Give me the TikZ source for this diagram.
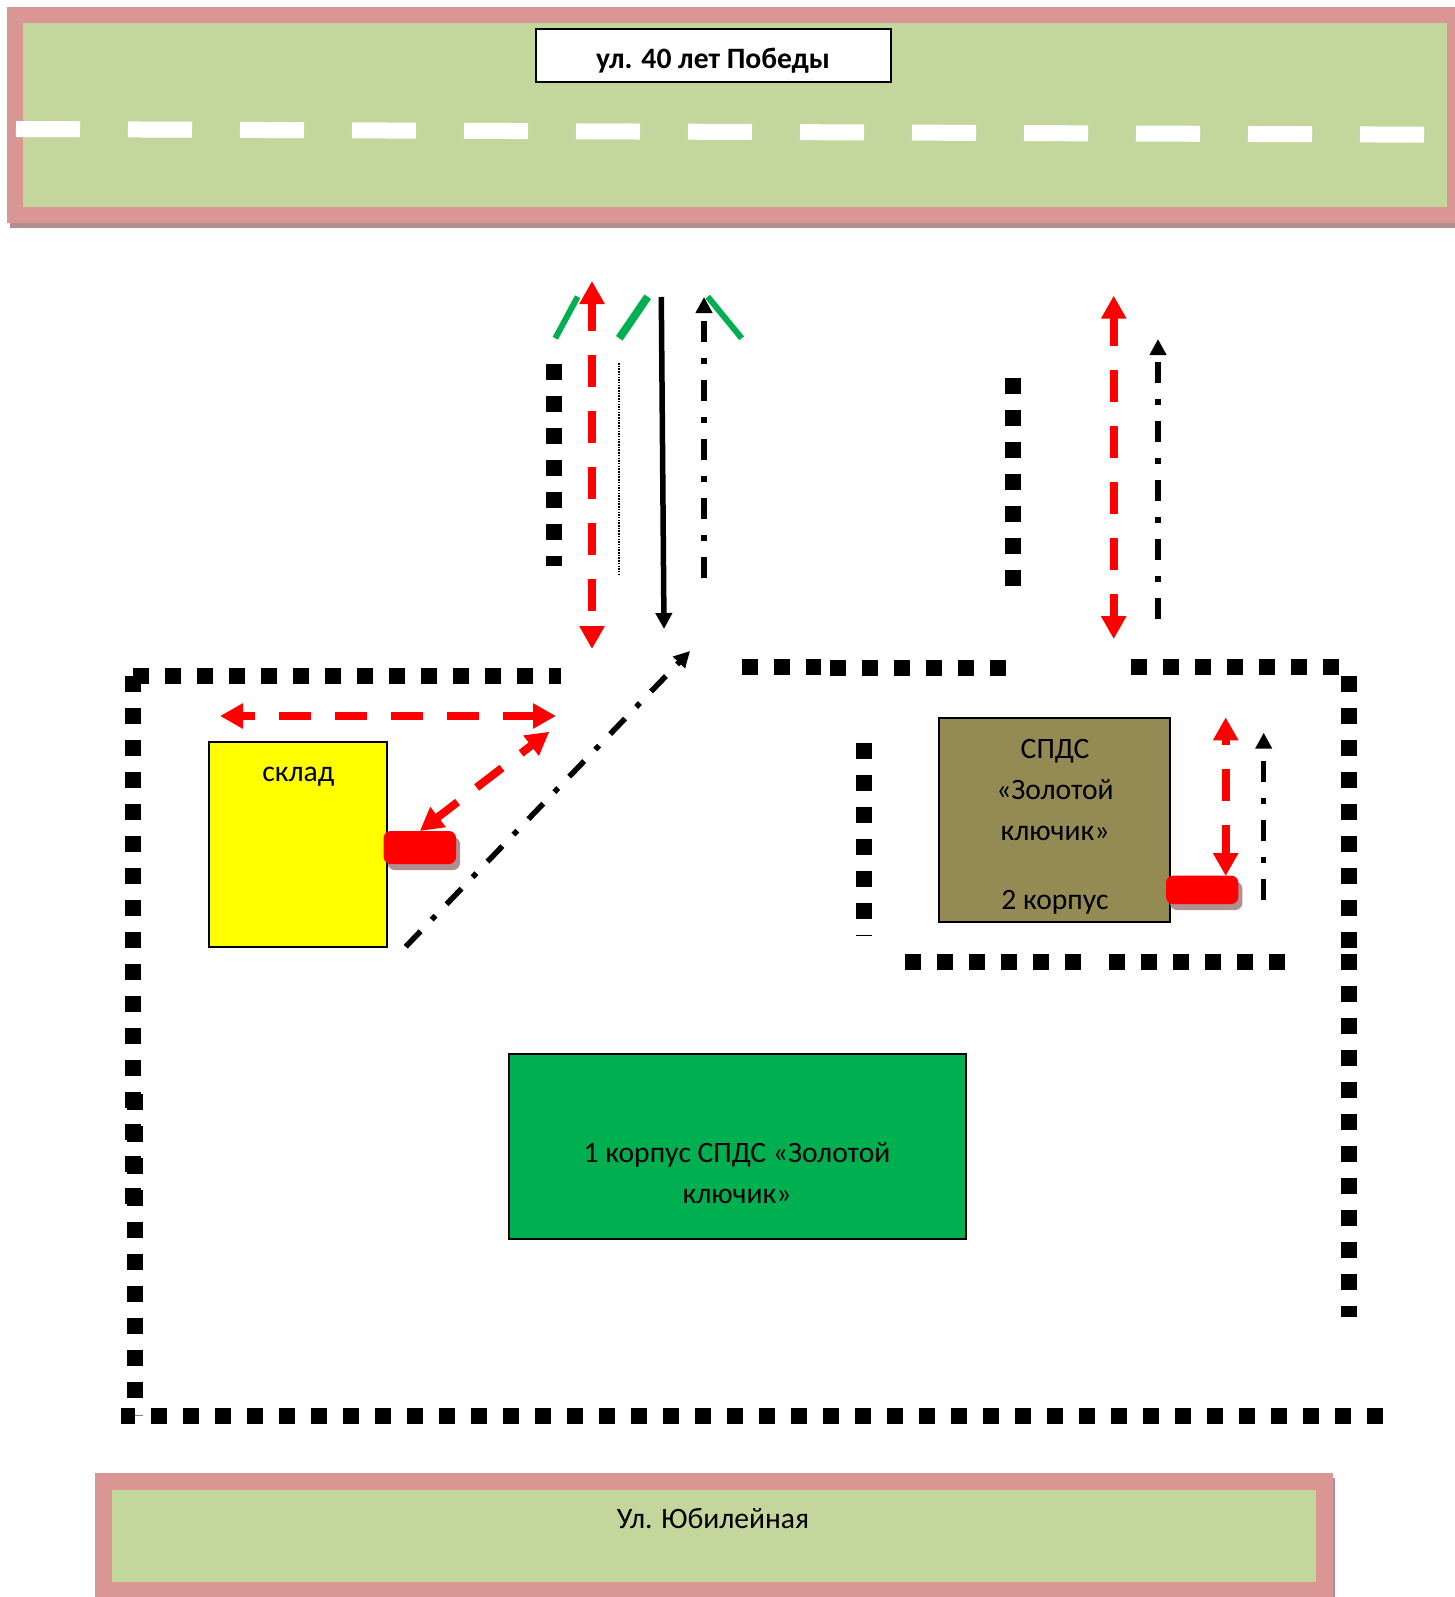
\documentclass[tikz,border=0pt]{standalone}
\usepackage{fontspec}
\setmainfont{Carlito}
\usetikzlibrary{arrows.meta,shadows}
\definecolor{roadpink}{HTML}{D99694}
\definecolor{roadgreen}{HTML}{C3D69B}
\definecolor{roadshade}{HTML}{AF8F8F}
\definecolor{spdsbrown}{HTML}{948A54}
\definecolor{spdsgreen}{HTML}{00B050}
\definecolor{skladyellow}{HTML}{FFFF00}
\definecolor{gatered}{HTML}{FF0000}
\tikzset{
    %Define style for boxes
    house/.style={
           rectangle,
           draw=black, line width=2pt,
           inner sep=0pt, outer sep=0pt,
           anchor=north west},
    gate/.style={
           rectangle,
           rounded corners=7pt,
           fill=gatered,
           inner sep=0pt, outer sep=0pt,
           anchor=north west,
           drop shadow={shadow xshift=4pt,shadow yshift=-6pt,fill=roadshade,opacity=1}},
    txt/.style={
           align=center,
           inner sep=0pt,
           font=\fontsize{29.6}{41}\selectfont},
    % Define fence style
    fence/.style={
           line width=16pt,
           dash pattern=on 16pt off 16pt},
    % Define arrow styles
    redpil/.style={
           {Triangle[length=23pt,width=24pt]}-{Triangle[length=23pt,width=24pt]},
           gatered,
           line width=8pt,
           dash pattern=on 32pt off 24pt},
    blackpil/.style={
           -{Triangle[length=16pt,width=16pt]},
           line width=5.5pt,
           dash pattern=on 21.5pt off 16pt on 5.5pt off 16pt},
    greenline/.style={
           spdsgreen,
           line width=6pt}
}
\begin{document}
\begin{tikzpicture}[x=1pt,y=-1pt]
\useasboundingbox (0,0) rectangle (1455,1597);

 %roads
\fill[roadshade] (9.5,13) rectangle (1455,228.5);
\fill[roadpink] (7.3,7.3) rectangle (1455,223);
\fill[roadgreen] (23,23) rectangle (1446.5,207);
\draw[white,line width=16pt,dash pattern=on 64pt off 48pt] (16,129) -- (1424.3,134.7);
\fill[roadshade] (97,1478) rectangle (1334.5,1597);
\fill[roadpink] (95,1473.3) rectangle (1332.6,1597);
\fill[roadgreen] (111.6,1489.7) rectangle (1316,1581.7);

 %nodes
\node[house,fill=white,minimum width=355.5pt,minimum height=53pt](pobedy) at (535.5,29.5){};
\node[txt,font=\fontsize{29.6}{34}\selectfont\bfseries] (pobedytxt) at (713,60.5){ул. 40 лет Победы};
\node[txt] (yubtxt) at (713,1519){Ул. Юбилейная};
\node[house,fill=skladyellow,minimum width=178.3pt,minimum height=204.4pt](sklad) at (209,742.3){};
\node[txt] (skladtxt) at (298.3,776.5){склад};
\node[house,fill=spdsbrown,minimum width=230.7pt,minimum height=203.7pt](korp2) at (939.3,718.3){};
\node[txt] (korp2txt) at (1055,789.5){СПДС\\«Золотой\\ключик»};
\node[txt] (korp2num) at (1055,902){2 корпус};
\node[house,fill=spdsgreen,minimum width=457pt,minimum height=184.7pt](korp1) at (509,1054.3){};
\node[txt] (korp1txt) at (737,1173){1 корпус СПДС «Золотой\\ключик»};
\node[gate,minimum width=72.3pt,minimum height=33pt](gate1) at (383.7,831){};
\node[gate,minimum width=72.3pt,minimum height=28.3pt](gate2) at (1166,875.7){};

 %ends of arrows
\coordinate (redtop) at (592,281);
\coordinate (redbot) at (592,649);
\coordinate (redrtop) at (1113.7,295.7);
\coordinate (redrbot) at (1113.7,639);
\coordinate (skladl) at (220,716);
\coordinate (skladr) at (556,716);
\coordinate (skladd) at (549.3,731.7);
\coordinate (korptop) at (1225.7,717.3);
\coordinate (korpbot) at (1225.7,876);
\coordinate (blktop) at (704,297);
\coordinate (blkbot) at (704,578);
\coordinate (blkrtop) at (1158,339);
\coordinate (blkrbot) at (1158,619.3);
\coordinate (diagtop) at (690,651);
\coordinate (diagbot) at (405.7,946.7);
\coordinate (korpbtop) at (1263.7,732.7);
\coordinate (korpbbot) at (1263.7,900.3);
\coordinate (inbtop) at (661.3,297);
\coordinate (inbbot) at (664,629);

 %fences
\draw[fence] (554.3,364) -- (554.3,566);
\draw[fence] (1013,378) -- (1013,586);
\draw[fence] (133.2,675.5) -- (560.5,675.5);
\draw[fence] (133.3,675.7) -- (133.3,1203.7);
\draw[fence] (135.3,1094) -- (135.3,1398.7);
\draw[line width=16pt] (121.3,1415.7) -- (135.3,1415.7);
\draw[line width=1pt,gray] (135.3,1415.7) -- (143.3,1415.7);
\draw[fence] (151.3,1415.7) -- (1383.7,1415.7);
\draw[fence] (741.6,666.8) -- (821.4,666.8);
\draw[fence] (830.2,668.2) -- (1006.2,668.2);
\draw[fence] (1131,666.8) -- (1339,666.8);
\draw[fence] (1349,675.7) -- (1349,947.7);
\draw[fence] (1349,954.3) -- (1349,1317);
\draw[fence] (863.7,742.7) -- (863.7,936);
\draw[fence] (905.3,962.3) -- (1081.3,962.3);
\draw[fence] (1109.3,962.3) -- (1285.3,962.3);

 %arrows
\draw[redpil,dash phase=4pt] (redtop) -- (redbot);
\draw[redpil,dash phase=3.4pt] (redrtop) -- (redrbot);
\draw[redpil,dash phase=19pt] (skladl) -- (skladr);
\draw[redpil,dash phase=6pt] (gate1.north) -- (skladd);
\draw[redpil,dash phase=26pt] (korptop) -- (korpbot);
\draw[blackpil] (blkbot) -- (blktop);
\draw[blackpil] (blkrbot) -- (blkrtop);
\draw[blackpil] (diagbot) -- (diagtop);
\draw[blackpil] (korpbbot) -- (korpbtop);
\draw[-{Triangle[length=16pt,width=16pt]},line width=5.5pt] (inbtop) -- (inbbot);
\draw[line width=2pt,dash pattern=on 1.5pt off 1.2pt] (618.7,363) -- (618.7,574);

 %green marks
\draw[greenline] (555.3,338.3) -- (577.7,296.7);
\draw[greenline,line width=8pt] (619.3,338.3) -- (647.7,296.7);
\draw[greenline] (707.7,296.7) -- (741.7,338.3);

\end{tikzpicture}
\end{document}
